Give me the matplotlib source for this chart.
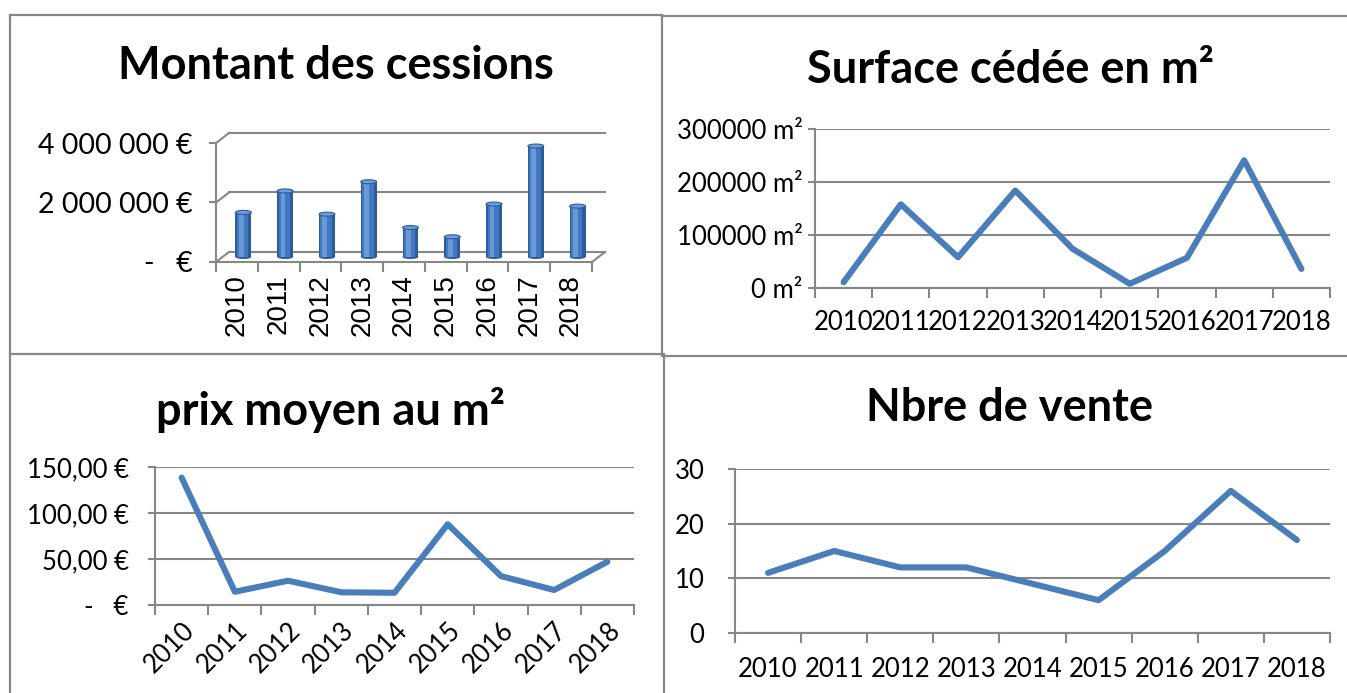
import matplotlib.pyplot as plt
import matplotlib.transforms as mtransforms
from matplotlib.patches import Ellipse
import numpy as np

plt.rcParams['font.family'] = ['Lato', 'DejaVu Sans']

years = ['2010', '2011', '2012', '2013', '2014', '2015', '2016', '2017', '2018']
montant = [1500000, 2220000, 1440000, 2530000, 990000, 680000, 1780000, 3730000, 1710000]
surface = [11000, 158000, 58000, 184000, 74000, 8000, 57000, 241000, 36000]
prix = [138.5, 14.4, 26.4, 13.8, 13.3, 87.8, 31.4, 16.3, 47.0]
ventes = [11, 15, 12, 12, 9, 6, 15, 26, 17]

BLUE = '#4a7ebb'
GRID = '#878787'
W, H = 1347, 693

fig = plt.figure(figsize=(W / 100, H / 100), dpi=100)


def px_axes(l, t, r, b):
    return fig.add_axes([l / W, 1 - b / H, (r - l) / W, (b - t) / H])


def px_line(xs, ys):
    fig.add_artist(plt.Line2D([x / W for x in xs], [1 - y / H for y in ys],
                              color=GRID, lw=1.6, transform=fig.transFigure))


def px_text(x, y, s, **kw):
    fig.text(x / W, 1 - y / H, s, ha='center', va='center', **kw)


# table borders
px_line([9.5, 662], [14.5, 14.5])
px_line([662, 1347], [16, 16])
px_line([9.5, 9.5], [14.5, 693])
px_line([662, 662], [14.5, 354])
px_line([9.5, 662], [354, 354])
px_line([662, 1347], [355.5, 355.5])
px_line([664, 664], [354, 693])

x = np.arange(len(years))


def base_axes(ax, ymax, step):
    ax.set_xlim(-0.5, len(years) - 0.5)
    ax.set_ylim(0, ymax)
    for s in ['top', 'right']:
        ax.spines[s].set_visible(False)
    for s in ['left', 'bottom']:
        ax.spines[s].set_color(GRID)
        ax.spines[s].set_linewidth(1.5)
    ax.set_yticks(np.arange(0, ymax + step / 2, step))
    ax.tick_params(axis='y', length=5, width=1.5, color=GRID, labelsize=18.5, pad=4)
    ax.set_xticks(x)
    ax.set_xticks(np.arange(-0.5, len(years), 1), minor=True)
    ax.tick_params(axis='x', which='major', length=0, labelsize=18.5)
    ax.tick_params(axis='x', which='minor', length=7, width=1.5, color=GRID)
    ax.patch.set_alpha(0)


def line_chart(ax, vals, ymax, step, labels):
    base_axes(ax, ymax, step)
    ax.yaxis.grid(True, color=GRID, lw=1.5)
    ax.set_axisbelow(True)
    ax.set_yticklabels(labels)
    ax.set_xticklabels(years)
    ax.plot(x, vals, color=BLUE, lw=4.4, solid_joinstyle='round',
            solid_capstyle='round', clip_on=False, zorder=3)


# ---- Montant des cessions (3D cylinders) ----
ax1 = px_axes(216, 143, 592, 262)
base_axes(ax1, 4000000, 2000000)
ax1.set_yticklabels(['-   €', '2 000 000 €', '4 000 000 €'])
ax1.tick_params(axis='y', labelsize=20.5, pad=12)
ax1.set_xticklabels(years, rotation=90, family='Liberation Sans', fontsize=20)
ax1.tick_params(axis='x', which='major', pad=9)
ppx = (592 - 216) / 9
ppy = (262 - 143) / 4000000
dxp, dyp = 13, 10
ddx, ddy = dxp / ppx, dyp / ppy
back = mtransforms.offset_copy(ax1.transData, fig=fig, x=dxp, y=dyp, units='dots')
mid = mtransforms.offset_copy(ax1.transData, fig=fig, x=dxp / 2, y=dyp / 2, units='dots')
for v in [0, 2000000, 4000000]:
    ax1.plot([-0.5, 8.5], [v, v], transform=back, color=GRID, lw=1.5, clip_on=False)
    ax1.plot([-0.5, -0.5 + ddx], [v, v + ddy], color=GRID, lw=1.5, clip_on=False)
ax1.plot([8.5, 8.5 + ddx], [0, ddy], color=GRID, lw=1.5, clip_on=False)

bw = 0.38
layers = [(bw, 0, '#2d5c9c'), (bw * 0.72, -0.02, '#4178c0'), (bw * 0.3, -0.05, '#6a9ad6')]
for w, off, c in layers:
    bars = ax1.bar(x + off, montant, width=w, color=c, linewidth=0, zorder=3)
    for b in bars:
        b.set_transform(mid)
        b.set_clip_on(False)
cap_h = 4 / ppy
for xi, v in zip(x, montant):
    ax1.add_patch(Ellipse((xi, v), bw, cap_h, facecolor='#6f9dd8', edgecolor='#2d5c9c',
                          lw=0.8, transform=mid, zorder=4, clip_on=False))
    ax1.add_patch(Ellipse((xi, 0), bw, cap_h, facecolor='#2d5c9c', edgecolor='none',
                          transform=mid, zorder=2, clip_on=False))

# ---- Surface cédée ----
ax2 = px_axes(815, 129, 1330, 288)
line_chart(ax2, surface, 300000, 100000,
           [f'{v} m²' for v in range(0, 300001, 100000)])
ax2.tick_params(axis='x', which='major', pad=16)

# ---- prix moyen ----
ax3 = px_axes(155, 467, 634, 605)
line_chart(ax3, prix, 150, 50, ['-   €', '50,00 €', '100,00 €', '150,00 €'])
ax3.tick_params(axis='y', pad=14)
ax3.set_xticklabels(years, rotation=45, ha='right', rotation_mode='anchor')
ax3.tick_params(axis='x', which='major', pad=9)

# ---- Nbre de vente ----
ax4 = px_axes(735, 469, 1330, 633)
line_chart(ax4, ventes, 30, 10, ['0', '10', '20', '30'])
ax4.tick_params(axis='y', pad=17)
ax4.tick_params(axis='x', which='major', pad=17)

# titles
tkw = dict(fontsize=32.5, fontweight='bold')
px_text(336, 66, 'Montant des cessions', **tkw)
px_text(1010, 70, 'Surface cédée en m²', **tkw)
px_text(330, 410, 'prix moyen au m²', **tkw)
px_text(1010, 408, 'Nbre de vente', **tkw)

fig.savefig('out.png', dpi=100)
